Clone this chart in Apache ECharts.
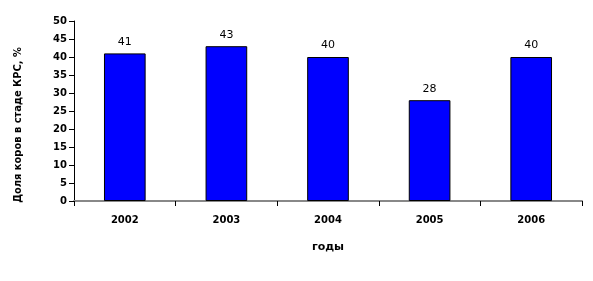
<!DOCTYPE html>
<html><head><meta charset="utf-8">
<script src="https://cdn.jsdelivr.net/npm/echarts@6/dist/echarts.min.js"></script>
<style>html,body{margin:0;padding:0;background:#fff}#c{width:593px;height:281px}</style>
</head><body><div id="c"></div>
<script>
var categories = ['2002','2003','2004','2005','2006'];
var values = [41, 43, 40, 28, 40];
var yTicks = [0,5,10,15,20,25,30,35,40,45,50];
var chart = echarts.init(document.getElementById('c'));
chart.setOption({
  animation:false,
  grid:{left:74,right:11,top:21,bottom:80},
  xAxis:{type:'category',data:categories,
    name:'годы',nameLocation:'middle',nameGap:41,
    nameTextStyle:{fontFamily:'DejaVu Sans',fontWeight:'bold',fontSize:11,color:'#000'},
    axisLine:{lineStyle:{color:'#888',width:2}},
    axisTick:{show:true,inside:false,length:5,lineStyle:{color:'#000'}},
    axisLabel:{fontFamily:'DejaVu Sans',fontWeight:'bold',fontSize:10,color:'#000',margin:14}},
  yAxis:{type:'value',min:0,max:50,interval:5,
    name:'Доля коров в стаде КРС, %',nameLocation:'middle',nameGap:50,nameRotate:90,
    nameTextStyle:{fontFamily:'DejaVu Sans Condensed',fontWeight:'bold',fontSize:11,color:'#000',padding:[0,28,0,0]},
    axisLine:{show:true,lineStyle:{color:'#000'}},
    axisTick:{show:true,length:5,lineStyle:{color:'#000'}},
    splitLine:{show:false},
    axisLabel:{fontFamily:'DejaVu Sans',fontWeight:'bold',fontSize:10,color:'#000',margin:7}},
  series:[{type:'bar',data:values,barWidth:'41%',
    itemStyle:{color:'#0000ff',borderColor:'#000',borderWidth:1},
    label:{show:true,position:'top',distance:6,fontFamily:'DejaVu Sans',fontSize:11,color:'#000'}}]
});
</script></body></html>
